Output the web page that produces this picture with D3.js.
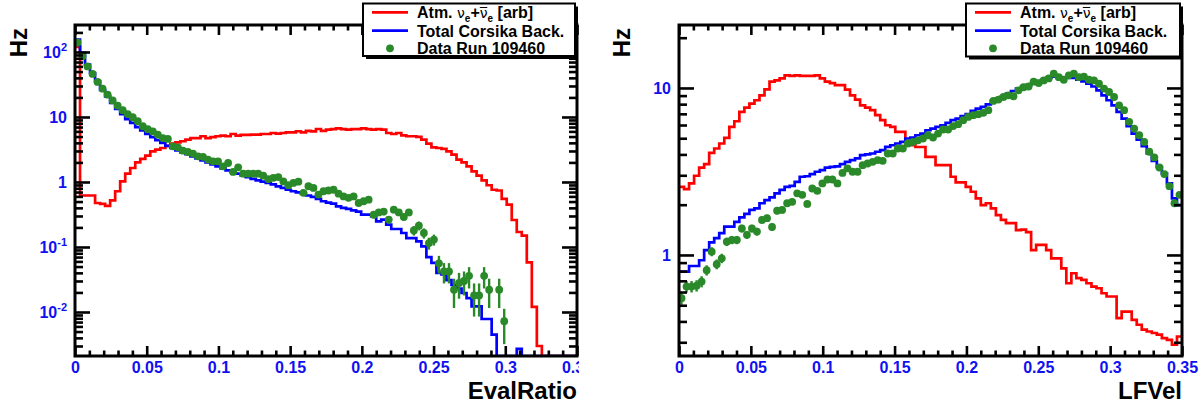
<!DOCTYPE html>
<html><head><meta charset="utf-8">
<script src="https://cdn.jsdelivr.net/npm/d3@7"></script>
<style>
body{margin:0;background:#fff;}
svg{display:block;}
text{font-family:"Liberation Sans",Arial,Helvetica,sans-serif;}
</style>
</head><body>
<svg id="c" width="1201" height="406"></svg>
<script>
// ---------------- data ----------------
const xMax = 0.35;
const nBins = 100;
const xTickValues = [0, 0.05, 0.1, 0.15, 0.2, 0.25, 0.3, 0.35];
const xTickLabels = ["0", "0.05", "0.1", "0.15", "0.2", "0.25", "0.3", "0.35"];
const evalYTicks = [0.01, 0.1, 1, 10, 100];
const lfYTicks = [1, 10];
const legendLabels = ["Atm.", "Total Corsika Back.", "Data Run 109460"];
const xTitles = ["EvalRatio", "LFVel"];
const yTitle = "Hz";

const evalAtm = [120, 0.62, 0.62, 0.62, 0.475, 0.46, 0.43, 0.52, 0.72, 1.02,
 1.34, 1.64, 2.01, 2.26, 2.54, 2.96, 3.14, 3.33, 3.6, 3.89,
 4.07, 4.23, 4.48, 4.74, 4.74, 5.05, 4.74, 4.9, 5.05, 5.15,
 5.05, 5.47, 5.15, 5.3, 5.3, 5.35, 5.35, 5.47, 5.47, 5.67,
 5.55, 5.67, 5.8, 5.8, 6.03, 5.8, 6.1, 6.0, 6.53, 6.1,
 6.4, 6.5, 6.7, 6.5, 6.4, 6.5, 6.5, 6.7, 6.5, 6.4,
 6.5, 6.4, 5.67, 5.47, 5.67, 5.22, 5.05, 5.05, 4.95, 4.48,
 3.89, 3.41, 3.33, 3.22, 2.96, 2.63, 2.21, 2.01, 1.74, 1.46,
 1.25, 1.06, 0.89, 0.76, 0.74, 0.55, 0.45, 0.26, 0.17, 0.15,
 0.058, 0.012, 0.003, 0, 0, 0, 0, 0, 0, 0];

const evalCorsika = [155, 97, 64, 47.5, 35.5, 26, 20.8, 16.4, 13.3, 11.1,
 9.3, 8.1, 7.0, 6.2, 5.5, 4.9, 4.4, 4.0, 3.6, 3.33,
 3.07, 2.86, 2.67, 2.48, 2.31, 2.15, 2.01, 1.87, 1.74, 1.62,
 1.51, 1.43, 1.34, 1.26, 1.19, 1.12, 1.06, 1.01, 0.966, 0.92,
 0.857, 0.81, 0.76, 0.72, 0.69, 0.66, 0.62, 0.59, 0.55, 0.505,
 0.48, 0.464, 0.42, 0.40, 0.385, 0.366, 0.35, 0.314, 0.314, 0.296,
 0.248, 0.263, 0.221, 0.189, 0.189, 0.164, 0.137, 0.137, 0.122, 0.102,
 0.070, 0.057, 0.040, 0.038, 0.031, 0.026, 0.023, 0.0196, 0.0164, 0.0122,
 0.0122, 0.0078, 0.0078, 0.0045, 0, 0, 0, 0, 0.0027, 0,
 0, 0, 0, 0, 0, 0, 0, 0, 0, 0];

const evalData = [140, 86, 60, 46, 34.6, 27.3, 22, 18, 14.9, 12.7,
 11.1, 9.9, 8.6, 7.2, 6.5, 6.0, 5.35, 4.74, 4.59, 3.54,
 3.41, 3.03, 2.89, 2.74, 2.48, 2.44, 2.21, 2.08, 2.08, 1.74,
 1.96, 1.43, 1.68, 1.34, 1.34, 1.34, 1.34, 1.25, 1.11, 1.16,
 1.19, 1.02, 0.89, 0.966, 1.01, 0.68, 0.86, 0.81, 0.64, 0.72,
 0.74, 0.76, 0.66, 0.6, 0.57, 0.6, 0.475, 0.505, 0.535, 0.314,
 0.34, 0.35, 0.264, 0.375, 0.34, 0.29, 0.34, 0.18, 0.213, 0.164,
 0.115, 0.13, 0.056, 0.042, 0.042, 0.022, 0.028, 0.03, 0.036, 0.018,
 0.018, 0.036, 0.022, null, 0.022, 0.0072, null, null, null, null,
 null, null, null, null, null, null, null, null, null, null];

const evalDataErr = [0.84, 0.66, 0.55, 0.48, 0.42, 0.37, 0.33, 0.3, 0.27, 0.25,
 0.24, 0.22, 0.21, 0.19, 0.18, 0.17, 0.16, 0.15, 0.15, 0.13,
 0.13, 0.12, 0.12, 0.12, 0.11, 0.11, 0.105, 0.1, 0.1, 0.093,
 0.099, 0.085, 0.092, 0.082, 0.082, 0.082, 0.082, 0.079, 0.075, 0.076,
 0.077, 0.072, 0.067, 0.069, 0.071, 0.058, 0.066, 0.064, 0.057, 0.06,
 0.061, 0.062, 0.057, 0.055, 0.053, 0.055, 0.049, 0.05, 0.052, 0.04,
 0.041, 0.042, 0.036, 0.043, 0.041, 0.038, 0.041, 0.03, 0.033, 0.029,
 0.024, 0.025, 0.017, 0.0145, 0.0145, 0.0105, 0.012, 0.012, 0.013, 0.0095,
 0.0095, 0.013, 0.0105, null, 0.0105, 0.004, null, null, null, null,
 null, null, null, null, null, null, null, null, null, null];

const lfAtm = [2.56, 2.48, 2.68, 2.98, 3.33, 3.50, 4.09, 4.34, 4.65, 5.03,
 5.85, 6.32, 7.19, 7.63, 8.06, 8.44, 9.04, 9.82, 10.9, 11.1,
 11.4, 11.9, 11.8, 11.9, 11.8, 11.8, 11.8, 11.9, 11.4, 10.9,
 10.7, 10.4, 10.4, 9.77, 9.04, 8.52, 7.87, 7.63, 7.36, 6.87,
 6.41, 5.98, 5.85, 5.46, 5.46, 4.54, 4.54, 4.43, 4.43, 3.87,
 3.87, 3.45, 3.45, 3.45, 2.94, 2.72, 2.72, 2.56, 2.39, 2.18,
 1.99, 2.04, 1.90, 1.73, 1.62, 1.55, 1.55, 1.41, 1.42, 1.37,
 1.07, 1.15, 1.15, 1.07, 0.955, 0.955, 0.832, 0.677, 0.777, 0.726,
 0.71, 0.677, 0.647, 0.632, 0.59, 0.564, 0.564, 0.419, 0.458, 0.458,
 0.409, 0.382, 0.357, 0.348, 0.341, 0.333, 0.318, 0.31, 0.29, 0.325];

const lfCorsika = [0.794, 0.794, 0.859, 0.859, 0.93, 1.07, 1.19, 1.26, 1.35, 1.48,
 1.48, 1.58, 1.68, 1.76, 1.86, 1.90, 2.04, 2.13, 2.21, 2.34,
 2.45, 2.56, 2.59, 2.74, 2.94, 2.96, 3.05, 3.15, 3.22, 3.33,
 3.37, 3.39, 3.50, 3.61, 3.70, 3.79, 3.96, 4.00, 4.05, 4.15,
 4.24, 4.44, 4.54, 4.65, 4.75, 4.98, 5.04, 5.21, 5.33, 5.58,
 5.71, 5.85, 5.98, 6.18, 6.41, 6.56, 6.78, 6.97, 7.30, 7.52,
 7.70, 7.98, 8.36, 8.63, 8.92, 9.25, 9.59, 9.91, 10.2, 10.4,
 10.7, 11.0, 11.2, 11.5, 11.7, 11.6, 11.5, 11.5, 11.5, 11.2,
 10.96, 10.6, 10.2, 9.68, 9.04, 8.44, 7.87, 7.19, 6.56, 5.90,
 5.33, 4.91, 4.48, 4.05, 3.66, 3.37, 3.08, 2.68, 2.18, 1.99];

const lfData = [0.551, 0.647, 0.647, 0.655, 0.693, 0.81, 1.047, 0.88, 0.955, 1.20,
 1.23, 1.23, 1.44, 1.32, 1.44, 1.38, 1.62, 1.66, 1.47, 1.84,
 1.86, 2.04, 2.08, 2.34, 2.29, 2.02, 2.50, 2.42, 2.68, 2.83,
 2.83, 2.68, 3.10, 3.30, 3.15, 3.15, 3.45, 3.53, 3.61, 3.70,
 3.66, 4.05, 4.05, 4.34, 4.34, 4.65, 4.75, 4.86, 4.98, 5.21,
 5.05, 5.33, 5.64, 5.64, 5.91, 6.07, 6.41, 6.71, 6.87, 6.97,
 7.10, 7.36, 8.36, 8.52, 8.83, 9.04, 8.92, 9.68, 10.1, 10.2,
 10.9, 10.7, 11.1, 11.4, 12.2, 11.6, 11.2, 11.9, 12.2, 11.6,
 11.7, 11.2, 11.1, 10.6, 9.91, 9.46, 8.83, 7.87, 7.36, 6.27,
 5.71, 5.21, 4.75, 4.15, 3.84, 3.34, 3.05, 2.58, 2.04, 2.29];

const lfDataErr = [0.047, 0.051, 0.051, 0.051, 0.053, 0.057, 0.065, 0.059, 0.062, 0.069,
 0.07, 0.07, 0.076, 0.073, 0.076, 0.074, 0.08, 0.081, 0.076, 0.086,
 0.086, 0.09, 0.091, 0.097, 0.096, 0.09, 0.1, 0.098, 0.1, 0.106,
 0.106, 0.1, 0.11, 0.115, 0.112, 0.112, 0.117, 0.119, 0.12, 0.12,
 0.12, 0.127, 0.127, 0.13, 0.13, 0.136, 0.138, 0.14, 0.141, 0.144,
 0.142, 0.146, 0.15, 0.15, 0.154, 0.156, 0.16, 0.164, 0.166, 0.167,
 0.168, 0.17, 0.18, 0.185, 0.188, 0.19, 0.19, 0.197, 0.2, 0.2,
 0.21, 0.207, 0.21, 0.213, 0.22, 0.215, 0.21, 0.218, 0.22, 0.215,
 0.216, 0.21, 0.21, 0.206, 0.2, 0.195, 0.188, 0.177, 0.17, 0.158,
 0.151, 0.144, 0.138, 0.129, 0.124, 0.116, 0.11, 0.1, 0.09, 0.096];

// ---------------- drawing ----------------
const RED = "#ff0000", BLUE = "#0000ff", GREEN = "#2a8a2a", LABEL_BLUE = "#1010f0";
const svg = d3.select("#c");
const defs = svg.append("defs");

const panels = [
  {id: "p1", left: 75, right: 577, top: 25, bottom: 356,
   ymin: Math.pow(10, -2.677), ymax: Math.pow(10, 2.415), yTicks: evalYTicks,
   atm: evalAtm, cors: evalCorsika, data: evalData, err: evalDataErr,
   xTitle: xTitles[0], hzX: 27, clipRight: 579,
   leg: {x0: 363, x1: 575, y0: 3.5, y1: 56}},
  {id: "p2", left: 679, right: 1182, top: 25, bottom: 356,
   ymin: Math.pow(10, -0.605), ymax: Math.pow(10, 1.377), yTicks: lfYTicks,
   atm: lfAtm, cors: lfCorsika, data: lfData, err: lfDataErr,
   xTitle: xTitles[1], hzX: 630, clipRight: 1201,
   leg: {x0: 966, x1: 1180, y0: 3.5, y1: 56.5}}
];

function styleAxis(g, width) {
  g.select(".domain").remove();
  g.selectAll(".tick line").attr("stroke", "#000").attr("stroke-width", width);
}

panels.forEach(cfg => {
  const pad0 = cfg.id === "p1" ? 0 : 600;
  defs.append("clipPath").attr("id", cfg.id + "pad").append("rect")
    .attr("x", pad0).attr("y", 0).attr("width", cfg.clipRight - pad0).attr("height", 406);
  defs.append("clipPath").attr("id", cfg.id + "frame").append("rect")
    .attr("x", cfg.left).attr("y", cfg.top).attr("width", cfg.right - cfg.left).attr("height", cfg.bottom - cfg.top);

  const g = svg.append("g").attr("clip-path", `url(#${cfg.id}pad)`);
  const x = d3.scaleLinear().domain([0, xMax]).range([cfg.left, cfg.right]);
  const y = d3.scaleLog().domain([cfg.ymin, cfg.ymax]).range([cfg.bottom, cfg.top]);
  const bw = xMax / nBins;
  const yc = v => y(Math.max(v, cfg.ymin));

  const plot = g.append("g").attr("clip-path", `url(#${cfg.id}frame)`);

  function stepPath(vals) {
    const p = d3.path();
    p.moveTo(x(0), yc(vals[0]));
    vals.forEach((v, i) => {
      p.lineTo(x((i + 1) * bw), yc(v));
      if (i + 1 < vals.length) p.lineTo(x((i + 1) * bw), yc(vals[i + 1]));
    });
    return p.toString();
  }
  plot.append("path").attr("d", stepPath(cfg.atm)).attr("fill", "none")
    .attr("stroke", RED).attr("stroke-width", 2.7);
  plot.append("path").attr("d", stepPath(cfg.cors)).attr("fill", "none")
    .attr("stroke", BLUE).attr("stroke-width", 2.7);

  const pts = cfg.data.map((v, i) => ({v, e: cfg.err[i], xc: (i + 0.5) * bw})).filter(d => d.v != null && d.v > 0);
  plot.selectAll("line.err").data(pts).enter().append("line")
    .attr("x1", d => x(d.xc)).attr("x2", d => x(d.xc))
    .attr("y1", d => yc(d.v - d.e)).attr("y2", d => yc(d.v + d.e))
    .attr("stroke", GREEN).attr("stroke-width", 2.4);
  plot.selectAll("circle.pt").data(pts).enter().append("circle")
    .attr("cx", d => x(d.xc)).attr("cy", d => y(d.v)).attr("r", 3.9)
    .attr("fill", GREEN);

  // frame
  g.append("rect").attr("x", cfg.left).attr("y", cfg.top)
    .attr("width", cfg.right - cfg.left).attr("height", cfg.bottom - cfg.top)
    .attr("fill", "none").attr("stroke", "#000").attr("stroke-width", 3);

  // x axes
  const xMinor = d3.range(1, 35).filter(i => i % 5 !== 0).map(i => i / 100);
  const gxb = g.append("g").attr("transform", `translate(0,${cfg.bottom})`)
    .call(d3.axisBottom(x).tickValues(xTickValues).tickFormat((d, i) => xTickLabels[i])
      .tickSizeInner(-10).tickSizeOuter(0).tickPadding(5.5));
  styleAxis(gxb, 2.6);
  gxb.selectAll(".tick text").attr("fill", LABEL_BLUE).attr("font-size", 16)
    .attr("font-weight", "bold").attr("font-family", "Liberation Sans, Arial, sans-serif");
  const gxbm = g.append("g").attr("transform", `translate(0,${cfg.bottom})`)
    .call(d3.axisBottom(x).tickValues(xMinor).tickFormat(() => "").tickSizeInner(-5.5).tickSizeOuter(0));
  styleAxis(gxbm, 2.6);
  const gxt = g.append("g").attr("transform", `translate(0,${cfg.top})`)
    .call(d3.axisTop(x).tickValues(xTickValues).tickFormat(() => "").tickSizeInner(-10).tickSizeOuter(0));
  styleAxis(gxt, 2.6);
  const gxtm = g.append("g").attr("transform", `translate(0,${cfg.top})`)
    .call(d3.axisTop(x).tickValues(xMinor).tickFormat(() => "").tickSizeInner(-5.5).tickSizeOuter(0));
  styleAxis(gxtm, 2.6);

  // y axes (log)
  const lo = Math.floor(Math.log10(cfg.ymin)), hi = Math.ceil(Math.log10(cfg.ymax));
  const yMinor = [];
  for (let k = lo; k <= hi; k++) for (let m = 2; m <= 9; m++) {
    const v = m * Math.pow(10, k);
    if (v > cfg.ymin && v < cfg.ymax) yMinor.push(v);
  }
  const gyl = g.append("g").attr("transform", `translate(${cfg.left},0)`)
    .call(d3.axisLeft(y).tickValues(cfg.yTicks).tickFormat(() => "").tickSizeInner(-15).tickSizeOuter(0).tickPadding(8));
  styleAxis(gyl, 2.6);
  gyl.selectAll(".tick text").each(function(d) {
    const t = d3.select(this);
    t.attr("fill", LABEL_BLUE).attr("font-size", 16).attr("font-weight", "bold")
      .attr("font-family", "Liberation Sans, Arial, sans-serif").attr("dy", "0.36em");
    const e = Math.round(Math.log10(d));
    t.text(null);
    if (e === 0) t.append("tspan").text("1");
    else if (e === 1) t.append("tspan").text("10");
    else {
      t.append("tspan").text("10");
      t.append("tspan").attr("dy", -7).attr("font-size", 11).text(String(e));
    }
  });
  const gylm = g.append("g").attr("transform", `translate(${cfg.left},0)`)
    .call(d3.axisLeft(y).tickValues(yMinor).tickFormat(() => "").tickSizeInner(-8).tickSizeOuter(0));
  styleAxis(gylm, 2.6);
  const gyr = g.append("g").attr("transform", `translate(${cfg.right},0)`)
    .call(d3.axisRight(y).tickValues(cfg.yTicks).tickFormat(() => "").tickSizeInner(-15).tickSizeOuter(0));
  styleAxis(gyr, 2.6);
  const gyrm = g.append("g").attr("transform", `translate(${cfg.right},0)`)
    .call(d3.axisRight(y).tickValues(yMinor).tickFormat(() => "").tickSizeInner(-8).tickSizeOuter(0));
  styleAxis(gyrm, 2.6);

  // titles
  g.append("text").attr("x", cfg.right).attr("y", 399).attr("text-anchor", "end")
    .attr("font-size", 24).attr("font-weight", "bold").attr("fill", "#000").text(cfg.xTitle);
  g.append("text").attr("transform", `translate(${cfg.hzX},28) rotate(-90)`).attr("text-anchor", "end")
    .attr("font-size", 24).attr("font-weight", "bold").attr("fill", "#000").text(yTitle);

  // legend
  const L = cfg.leg;
  g.append("rect").attr("x", L.x0 + 3).attr("y", L.y0 + 3).attr("width", L.x1 - L.x0).attr("height", L.y1 - L.y0)
    .attr("fill", "#000");
  g.append("rect").attr("x", L.x0).attr("y", L.y0).attr("width", L.x1 - L.x0).attr("height", L.y1 - L.y0)
    .attr("fill", "#fff").attr("stroke", "#000").attr("stroke-width", 2);
  const rows = [12.3, 30.7, 48.3];
  const lx0 = L.x0 + 9, lx1 = L.x0 + 45, tx = L.x0 + 54;
  g.append("line").attr("x1", lx0).attr("x2", lx1).attr("y1", rows[0]).attr("y2", rows[0])
    .attr("stroke", RED).attr("stroke-width", 2.7);
  g.append("line").attr("x1", lx0).attr("x2", lx1).attr("y1", rows[1]).attr("y2", rows[1])
    .attr("stroke", BLUE).attr("stroke-width", 2.7);
  g.append("circle").attr("cx", (lx0 + lx1) / 2).attr("cy", rows[2]).attr("r", 3.9).attr("fill", GREEN);

  const t0 = g.append("text").attr("x", tx).attr("y", rows[0] + 6).attr("font-size", 16)
    .attr("font-weight", "bold").attr("fill", "#000");
  t0.append("tspan").text(legendLabels[0] + " ");
  t0.append("tspan").attr("font-weight", "normal").attr("font-family", "DejaVu Sans, sans-serif").attr("font-size", 14).text("\u03bd");
  t0.append("tspan").attr("font-size", 10).attr("dy", 4).text("e");
  t0.append("tspan").attr("dy", -4).text("+");
  t0.append("tspan").attr("font-weight", "normal").attr("font-family", "DejaVu Sans, sans-serif").attr("font-size", 14).text("\u03bd\u0305");
  t0.append("tspan").attr("font-size", 10).attr("dy", 4).text("e");
  t0.append("tspan").attr("dy", -4).text(" [arb]");
  g.append("text").attr("x", tx).attr("y", rows[1] + 6).attr("font-size", 16)
    .attr("font-weight", "bold").attr("fill", "#000").text(legendLabels[1]);
  g.append("text").attr("x", tx).attr("y", rows[2] + 6).attr("font-size", 16)
    .attr("font-weight", "bold").attr("fill", "#000").text(legendLabels[2]);
});
</script>
</body></html>
